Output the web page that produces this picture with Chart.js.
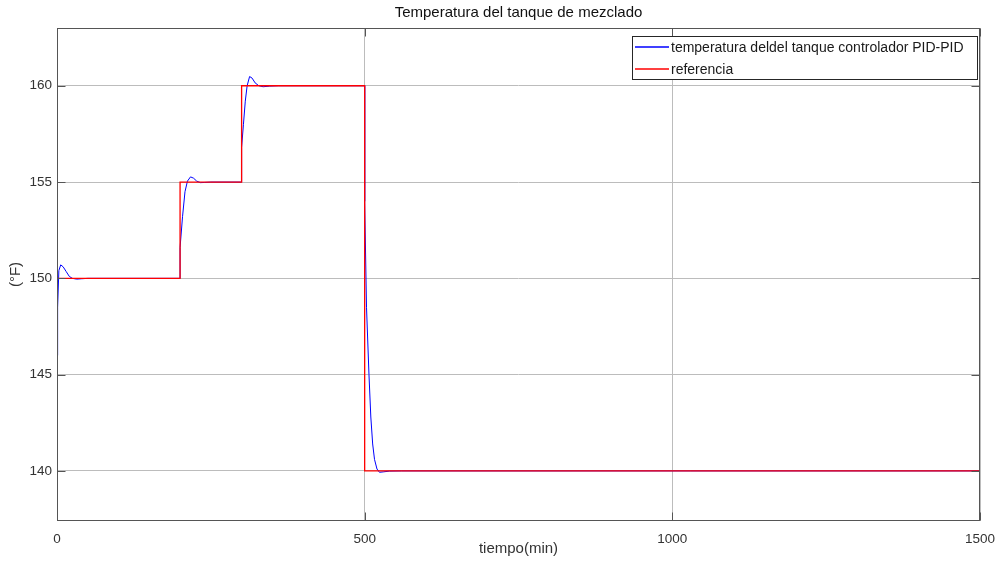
<!DOCTYPE html>
<html lang="es">
<head>
<meta charset="UTF-8">
<title>Temperatura del tanque de mezclado</title>
<script src="https://cdn.jsdelivr.net/npm/chart.js"></script>
<style>
  html, body { margin: 0; padding: 0; background: #ffffff; }
  #wrap { width: 998px; height: 562px; }
</style>
</head>
<body>
<div id="wrap"><canvas id="tempChart" width="998" height="562"></canvas></div>
<script>
// tank temperature under the PID-PID controller (min, °F)
const tempTime = [0, 1, 3, 6, 10, 15, 20, 25, 32, 40, 50,
  200, 200, 204, 208, 212, 217, 222, 227, 233, 240, 250,
  300, 300, 303, 306, 309, 313, 317, 322, 328, 335, 345, 360,
  500, 500, 503, 507, 510, 513, 516, 520, 524, 530, 540, 560, 1500];
const tempValues = [146.0, 148.5, 150.4, 150.7, 150.6, 150.35, 150.1, 150.0, 149.96, 149.98, 150,
  150, 151.6, 153.2, 154.5, 155.05, 155.27, 155.2, 155.05, 154.97, 154.98, 155,
  155, 156.8, 158.0, 159.2, 160.0, 160.48, 160.4, 160.15, 160.0, 159.95, 159.98, 160,
  160, 154.0, 148.5, 145.0, 142.8, 141.4, 140.6, 140.1, 139.93, 139.95, 139.99, 140, 140];

// setpoint steps
const refTime = [0, 200, 200, 300, 300, 500, 500, 1500];
const refValues = [150, 150, 155, 155, 160, 160, 140, 140];

const xTickValues = [0, 500, 1000, 1500];
const yTickValues = [140, 145, 150, 155, 160];

const seriesNames = ['temperatura deldel tanque controlador PID-PID', 'referencia'];
const seriesColors = ['#0000ff', '#ff0000'];

const toPoints = (xs, ys) => xs.map((x, i) => ({ x: x, y: ys[i] }));

const axisColor = '#555555';
const textColor = '#333333';
const gridColor = '#bcbcbc';
const fontFamily = '"Liberation Sans", Arial, Helvetica, sans-serif';

// box around the axes, plus short inward tick marks like a MATLAB figure
const axesBox = {
  id: 'axesBox',
  afterDatasetsDraw(chart) {
    const { ctx, chartArea: a, scales } = chart;
    ctx.save();
    ctx.strokeStyle = axisColor;
    ctx.lineWidth = 1;
    const L = Math.round(a.left) + 0.5, R = Math.round(a.right) - 0.5;
    const T = Math.round(a.top) + 0.5, B = Math.round(a.bottom) - 0.5;
    ctx.strokeRect(L, T, R - L, B - T);
    const tl = 8;
    ctx.beginPath();
    yTickValues.forEach(v => {
      const y = Math.round(scales.y.getPixelForValue(v)) + 0.5;
      ctx.moveTo(L, y); ctx.lineTo(L + tl, y);
      ctx.moveTo(R, y); ctx.lineTo(R - tl, y);
    });
    xTickValues.forEach(v => {
      const x = Math.round(scales.x.getPixelForValue(v)) + 0.5;
      ctx.moveTo(x, B); ctx.lineTo(x, B - tl);
      ctx.moveTo(x, T); ctx.lineTo(x, T + tl);
    });
    ctx.stroke();
    ctx.restore();
  }
};

// legend box in the upper right corner of the axes
const boxLegend = {
  id: 'boxLegend',
  afterDraw(chart) {
    const { ctx, chartArea: a } = chart;
    ctx.save();
    ctx.font = '14px ' + fontFamily;
    const textW = Math.max(...seriesNames.map(s => ctx.measureText(s).width));
    const lineLen = 34, padL = 3, gap = 2, padR = 13;
    const w = Math.round(padL + lineLen + gap + textW + padR);
    const h = 43;
    const right = Math.round(a.right) - 3;
    const left = right - w;
    const top = Math.round(a.top) + 8;
    ctx.fillStyle = '#ffffff';
    ctx.fillRect(left, top, w, h);
    ctx.strokeStyle = '#262626';
    ctx.lineWidth = 1;
    ctx.strokeRect(left + 0.5, top + 0.5, w, h);
    const rows = [top + 11, top + 33];
    seriesNames.forEach((name, i) => {
      const y = rows[i];
      ctx.strokeStyle = seriesColors[i];
      ctx.lineWidth = 1.5;
      ctx.beginPath();
      ctx.moveTo(left + padL, y);
      ctx.lineTo(left + padL + lineLen, y);
      ctx.stroke();
      ctx.fillStyle = '#1a1a1a';
      ctx.textBaseline = 'middle';
      ctx.textAlign = 'left';
      ctx.fillText(name, left + padL + lineLen + gap, y + 1);
    });
    ctx.restore();
  }
};

new Chart(document.getElementById('tempChart'), {
  type: 'line',
  data: {
    datasets: [
      {
        label: seriesNames[0],
        data: toPoints(tempTime, tempValues),
        borderColor: seriesColors[0],
        borderWidth: 1,
        pointRadius: 0,
        tension: 0,
        fill: false,
        order: 2
      },
      {
        label: seriesNames[1],
        data: toPoints(refTime, refValues),
        borderColor: seriesColors[1],
        borderWidth: 1.3,
        pointRadius: 0,
        tension: 0,
        fill: false,
        order: 1
      }
    ]
  },
  options: {
    responsive: false,
    animation: false,
    layout: { padding: { left: 0, right: 18, top: 0, bottom: 0 } },
    plugins: {
      legend: { display: false },
      tooltip: { enabled: false },
      title: {
        display: true,
        fullSize: false,
        text: 'Temperatura del tanque de mezclado',
        color: '#111111',
        font: { family: fontFamily, size: 15, weight: 'normal', lineHeight: 1.2 },
        padding: { top: 4, bottom: 6 }
      }
    },
    scales: {
      x: {
        type: 'linear',
        min: 0,
        max: 1500,
        afterBuildTicks: s => { s.ticks = xTickValues.map(v => ({ value: v })); },
        afterFit: s => { s.height = 41; s.paddingLeft = 0; s.paddingRight = 0; },
        grid: { color: gridColor, drawTicks: false },
        border: { display: false },
        ticks: {
          color: textColor,
          padding: 10,
          maxRotation: 0,
          autoSkip: false,
          callback: v => String(v),
          font: { family: fontFamily, size: 13.5 }
        },
        title: {
          display: true,
          text: 'tiempo(min)',
          color: textColor,
          font: { family: fontFamily, size: 15, lineHeight: 1.2 },
          padding: { top: 0, bottom: 4 }
        }
      },
      y: {
        type: 'linear',
        min: 137.4,
        max: 163,
        afterBuildTicks: s => { s.ticks = yTickValues.map(v => ({ value: v })); },
        afterFit: s => { s.width = 57; s.paddingTop = 0; s.paddingBottom = 0; },
        grid: { color: gridColor, drawTicks: false },
        border: { display: false },
        ticks: {
          color: textColor,
          padding: 5,
          callback: v => String(v),
          font: { family: fontFamily, size: 13.5 }
        },
        title: {
          display: true,
          text: '(°F)',
          color: textColor,
          font: { family: fontFamily, size: 15, lineHeight: 1.2 },
          padding: { top: 7, bottom: 0 }
        }
      }
    }
  },
  plugins: [axesBox, boxLegend]
});
</script>
</body>
</html>
